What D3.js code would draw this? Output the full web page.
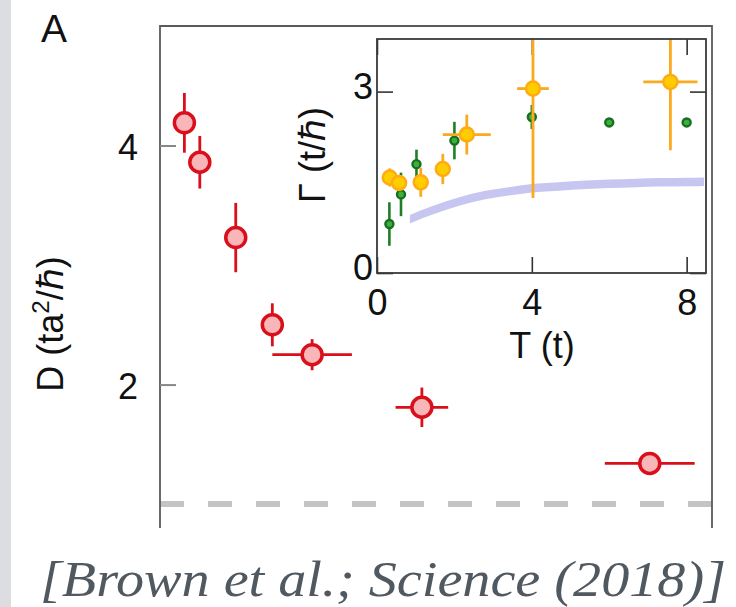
<!DOCTYPE html>
<html>
<head>
<meta charset="utf-8">
<script src="https://cdn.jsdelivr.net/npm/d3@7"></script>
<style>
  body { margin: 0; background: #fff; }
</style>
</head>
<body>
<svg width="736" height="607"></svg>
<script>
// temperatures shared by the red (D) and orange (Gamma) measurements
const temps = [0.33, 0.57, 1.13, 1.70, 2.32, 4.03, 7.58];
const tempErr = [0, 0, 0, 0, 0.62, 0.41, 0.70];

const diffusion = [4.19, 3.86, 3.23, 2.50, 2.25, 1.81, 1.34];
const diffusionErr = [0.25, 0.22, 0.29, 0.18, 0.13, 0.165, 0.04];
const diffusionRef = 1;

const gammaExp = [1.58, 1.49, 1.50, 1.72, 2.29, 3.05, 3.16];
const gammaExpErr = [0.15, 0.12, 0.24, 0.25, 0.33, 1.81, 1.13];

const greenT = [0.32, 0.62, 1.02, 2.0, 4.0, 6.0, 8.0];
const greenGamma = [0.81, 1.30, 1.80, 2.19, 2.58, 2.49, 2.49];
const greenErr = [0.36, 0.36, 0.24, 0.31, 0.2, 0, 0];

const bandT = [0.85, 1.4, 2.1, 2.8, 3.4, 4.0, 4.7, 5.4, 6.0, 6.7, 7.3, 8.0, 8.45];
const bandMid = [0.89, 1.03, 1.18, 1.29, 1.35, 1.40, 1.43, 1.46, 1.475, 1.49, 1.50, 1.505, 1.51];
const bandHalf = 0.07;

const mainYTicks = [2, 4];
const insetXTicks = [0, 4, 8];
const insetYTicks = [0, 3];

const sans = '"Liberation Sans", Arial, sans-serif';

const svg = d3.select('svg');
const width = +svg.attr('width');
const height = +svg.attr('height');

svg.append('rect')
    .attr('width', width)
    .attr('height', height)
    .attr('fill', '#fff');
svg.append('rect')
    .attr('width', 11)
    .attr('height', height)
    .attr('fill', '#dcdde0');

// main panel
const main = { left: 160, right: 712, top: 26, bottom: 528 };
const x = d3.scaleLinear().domain([-0.05, 8.55]).range([main.left, main.right]);
const y = d3.scaleLinear().domain([0.8, 5.0]).range([main.bottom, main.top]);

svg.append('line')
    .attr('x1', main.left).attr('x2', main.right)
    .attr('y1', y(diffusionRef)).attr('y2', y(diffusionRef))
    .attr('stroke', '#c4c4c4')
    .attr('stroke-width', 6)
    .attr('stroke-dasharray', '24,24');

svg.append('path')
    .attr('d', `M${main.left},${main.bottom}V${main.top}H${main.right}V${main.bottom}`)
    .attr('fill', 'none')
    .attr('stroke', '#5a5a5a')
    .attr('stroke-width', 1.8);

const yAxisG = svg.append('g')
    .attr('transform', `translate(${main.left},0)`)
    .call(d3.axisLeft(y).tickValues(mainYTicks).tickFormat(d3.format('d'))
        .tickSizeInner(-16).tickSizeOuter(0).tickPadding(22));
yAxisG.select('.domain').remove();
yAxisG.selectAll('.tick line').attr('stroke', '#888').attr('stroke-width', 2);
yAxisG.selectAll('.tick text')
    .attr('font-size', 36)
    .attr('font-family', sans)
    .attr('fill', '#111')
    .attr('dy', '0.38em');

const yLabel = svg.append('text')
    .attr('transform', 'translate(63,324) rotate(-90)')
    .attr('text-anchor', 'middle')
    .attr('font-family', sans)
    .attr('font-size', 36)
    .attr('fill', '#111');
yLabel.append('tspan').text('D (ta');
yLabel.append('tspan').text('2').attr('font-size', 24).attr('dy', -14);
yLabel.append('tspan').text('/ℏ)').attr('dy', 14);

svg.append('text')
    .attr('x', 41).attr('y', 42)
    .attr('font-family', sans)
    .attr('font-size', 39)
    .attr('fill', '#111')
    .text('A');

const red = svg.append('g');
temps.forEach((t, i) => {
    red.append('line')
        .attr('x1', x(t)).attr('x2', x(t))
        .attr('y1', y(diffusion[i] - diffusionErr[i]))
        .attr('y2', y(diffusion[i] + diffusionErr[i]))
        .attr('stroke', '#d90f1c').attr('stroke-width', 2.8);
    if (tempErr[i] > 0) {
        red.append('line')
            .attr('x1', x(t - tempErr[i])).attr('x2', x(t + tempErr[i]))
            .attr('y1', y(diffusion[i])).attr('y2', y(diffusion[i]))
            .attr('stroke', '#d90f1c').attr('stroke-width', 2.8);
    }
});
red.selectAll('circle')
    .data(temps)
    .join('circle')
    .attr('cx', d => x(d))
    .attr('cy', (d, i) => y(diffusion[i]))
    .attr('r', 10)
    .attr('fill', '#f8b6b9')
    .attr('stroke', '#d90f1c')
    .attr('stroke-width', 3.5);

// inset
const inset = { left: 377, right: 706, top: 39, bottom: 273 };
const ix = d3.scaleLinear().domain([0, 8.5]).range([inset.left, inset.right]);
const iy = d3.scaleLinear().domain([0, 3.87]).range([inset.bottom, inset.top]);

svg.append('rect')
    .attr('x', inset.left).attr('y', inset.top)
    .attr('width', inset.right - inset.left)
    .attr('height', inset.bottom - inset.top)
    .attr('fill', '#fff');

svg.append('clipPath').attr('id', 'insetClip')
    .append('rect')
    .attr('x', inset.left).attr('y', inset.top)
    .attr('width', inset.right - inset.left)
    .attr('height', inset.bottom - inset.top);

function styleAxis(g) {
    g.select('.domain').remove();
    g.selectAll('.tick line').attr('stroke', '#333').attr('stroke-width', 1.6);
    g.selectAll('.tick text')
        .attr('font-size', 36)
        .attr('font-family', sans)
        .attr('fill', '#111');
}

// top/right mirror ticks sit under the data
const ixTop = svg.append('g')
    .attr('transform', `translate(0,${inset.top})`)
    .call(d3.axisTop(ix).tickValues(insetXTicks).tickSizeInner(-16).tickSizeOuter(0).tickFormat(''));
styleAxis(ixTop);

const iyRight = svg.append('g')
    .attr('transform', `translate(${inset.right},0)`)
    .call(d3.axisRight(iy).tickValues(insetYTicks).tickSizeInner(-16).tickSizeOuter(0).tickFormat(''));
styleAxis(iyRight);

const plot = svg.append('g').attr('clip-path', 'url(#insetClip)');

plot.append('path')
    .datum(bandT)
    .attr('d', d3.area()
        .x(d => ix(d))
        .y0((d, i) => iy(bandMid[i] - bandHalf))
        .y1((d, i) => iy(bandMid[i] + bandHalf))
        .curve(d3.curveMonotoneX))
    .attr('fill', '#c6c6f1');

greenT.forEach((t, i) => {
    if (greenErr[i] > 0) {
        plot.append('line')
            .attr('x1', ix(t)).attr('x2', ix(t))
            .attr('y1', iy(greenGamma[i] - greenErr[i]))
            .attr('y2', iy(greenGamma[i] + greenErr[i]))
            .attr('stroke', '#1f7f26').attr('stroke-width', 2.6);
    }
});
plot.selectAll('circle.green')
    .data(greenT)
    .join('circle')
    .attr('class', 'green')
    .attr('cx', d => ix(d))
    .attr('cy', (d, i) => iy(greenGamma[i]))
    .attr('r', 4)
    .attr('fill', '#3fae3f')
    .attr('stroke', '#17701f')
    .attr('stroke-width', 2.4);

temps.forEach((t, i) => {
    plot.append('line')
        .attr('x1', ix(t)).attr('x2', ix(t))
        .attr('y1', iy(gammaExp[i] - gammaExpErr[i]))
        .attr('y2', iy(gammaExp[i] + gammaExpErr[i]))
        .attr('stroke', '#fba91e').attr('stroke-width', 2.8);
    if (tempErr[i] > 0) {
        plot.append('line')
            .attr('x1', ix(t - tempErr[i])).attr('x2', ix(t + tempErr[i]))
            .attr('y1', iy(gammaExp[i])).attr('y2', iy(gammaExp[i]))
            .attr('stroke', '#fba91e').attr('stroke-width', 2.8);
    }
});
plot.selectAll('circle.orange')
    .data(temps)
    .join('circle')
    .attr('class', 'orange')
    .attr('cx', d => ix(d))
    .attr('cy', (d, i) => iy(gammaExp[i]))
    .attr('r', 7)
    .attr('fill', '#ffcc00')
    .attr('stroke', '#ffab12')
    .attr('stroke-width', 2.5);

const ixAxis = svg.append('g')
    .attr('transform', `translate(0,${inset.bottom})`)
    .call(d3.axisBottom(ix).tickValues(insetXTicks).tickFormat(d3.format('d'))
        .tickSizeInner(-16).tickSizeOuter(0).tickPadding(16));
styleAxis(ixAxis);

const iyAxis = svg.append('g')
    .attr('transform', `translate(${inset.left},0)`)
    .call(d3.axisLeft(iy).tickValues(insetYTicks).tickFormat(d3.format('d'))
        .tickSizeInner(-16).tickSizeOuter(0).tickPadding(4));
styleAxis(iyAxis);
iyAxis.selectAll('.tick text').attr('dy', '0.18em');

svg.append('rect')
    .attr('x', inset.left).attr('y', inset.top)
    .attr('width', inset.right - inset.left)
    .attr('height', inset.bottom - inset.top)
    .attr('fill', 'none')
    .attr('stroke', '#3a3a3a')
    .attr('stroke-width', 1.8);

svg.append('text')
    .attr('x', 542).attr('y', 358)
    .attr('text-anchor', 'middle')
    .attr('font-family', sans)
    .attr('font-size', 36)
    .attr('fill', '#111')
    .text('T (t)');

svg.append('text')
    .attr('transform', 'translate(325,155) rotate(-90)')
    .attr('text-anchor', 'middle')
    .attr('font-family', sans)
    .attr('font-size', 36)
    .attr('fill', '#111')
    .text('Γ (t/ℏ)');

svg.append('text')
    .attr('x', 40).attr('y', 596)
    .attr('font-family', '"Liberation Serif", "DejaVu Serif", serif')
    .attr('font-style', 'italic')
    .attr('font-size', 50)
    .attr('textLength', 686)
    .attr('lengthAdjust', 'spacingAndGlyphs')
    .attr('fill', '#505860')
    .text('[Brown et al.; Science (2018)]');
</script>
</body>
</html>
